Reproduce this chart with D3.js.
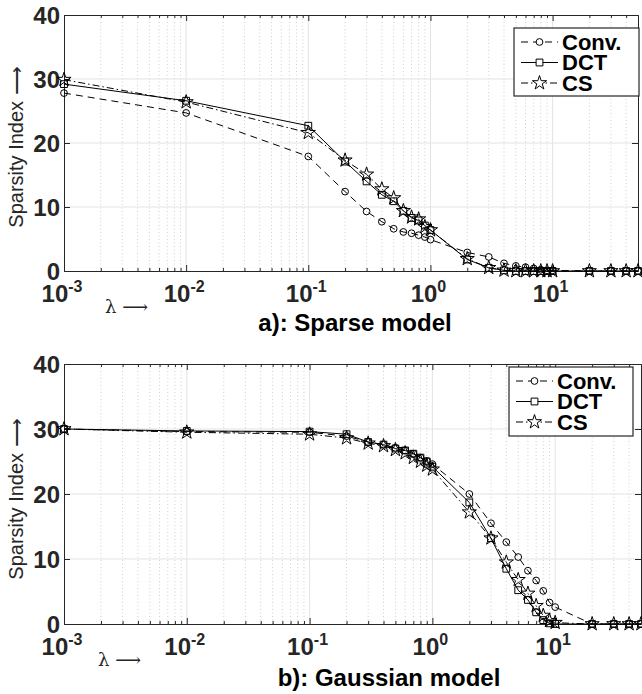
<!DOCTYPE html>
<html>
<head>
<meta charset="utf-8">
<script src="https://cdn.jsdelivr.net/npm/d3@7"></script>
<style>
html,body{margin:0;padding:0;background:#fff;}
svg{display:block;}
</style>
</head>
<body>
<svg id="chart" width="642" height="694"></svg>
<script>
// ---------------- data ----------------
const lambdaValues = [0.001, 0.01, 0.1, 0.2, 0.3, 0.4, 0.5, 0.6, 0.7, 0.8, 0.9, 1, 2, 3, 4, 5, 6, 7, 8, 9, 10, 20, 30, 40, 50];

const sparseConv = [27.8, 24.7, 17.9, 12.4, 9.3, 7.7, 6.6, 6.1, 5.9, 5.6, 5.3, 4.9, 2.9, 2.2, 1.2, 0.8, 0.6, 0.4, 0.2, 0.1, 0.1, 0, 0, 0, 0];
const sparseDCT  = [29.2, 26.6, 22.7, 17.1, 14.0, 11.9, 10.9, 9.4, 8.3, 7.9, 7.1, 6.4, 1.8, 0.5, 0.1, 0, 0, 0, 0, 0, 0, 0, 0, 0, 0];
const sparseCS   = [29.9, 26.4, 21.6, 17.3, 15.1, 12.8, 11.4, 9.4, 8.4, 8.1, 6.9, 6.4, 1.9, 0.5, 0.1, 0, 0, 0, 0, 0, 0, 0, 0, 0, 0];

const gaussConv = [30.0, 29.6, 29.5, 28.9, 28.0, 27.6, 27.1, 26.7, 26.2, 25.6, 25.1, 24.6, 20.0, 15.5, 12.6, 10.3, 8.2, 6.7, 5.1, 3.3, 2.6, 0, 0, 0, 0];
const gaussDCT  = [30.0, 29.7, 29.6, 29.2, 28.0, 27.6, 27.0, 26.7, 26.2, 25.6, 25.0, 24.2, 18.7, 13.2, 8.5, 5.2, 3.7, 1.8, 0.6, 0.1, 0, 0, 0, 0, 0];
const gaussCS   = [30.0, 29.5, 29.2, 28.6, 27.8, 27.4, 26.8, 26.3, 25.6, 25.0, 24.4, 23.8, 17.2, 13.2, 9.5, 6.8, 4.7, 2.8, 1.3, 0.5, 0.2, 0, 0, 0, 0];

const seriesNames = ["Conv.", "DCT", "CS"];
const yTickValues = [0, 10, 20, 30, 40];
const xDecades = [0.001, 0.01, 0.1, 1, 10];
const xDecadeExponents = ["-3", "-2", "-1", "0", "1"];
const yLabel = "Sparsity Index \u27F6";
const xLabel = "\u03BB \u27F6";
const panelTitles = ["a): Sparse model", "b): Gaussian model"];

// ---------------- styles ----------------
const styles = {
  "Conv.": {dash: "7,5", symbol: d3.symbolCircle, size: 36},
  "DCT":   {dash: null, symbol: d3.symbolSquare, size: 46},
  "CS":    {dash: "7,3,1.5,3", symbol: d3.symbolStar, size: 62}
};

const svg = d3.select("#chart");
const FONT = "'Liberation Sans', Arial, Helvetica, sans-serif";
const AX = "#262626";

function minorTicks() {
  const out = [];
  xDecades.forEach(d => { for (let k = 2; k <= 9; k++) { const v = d * k; if (v <= 50) out.push(v); } });
  out.push(20, 30, 40);
  return Array.from(new Set(out.map(v => +v.toPrecision(6))));
}

function drawPanel(cfg) {
  const x = d3.scaleLog().domain([0.001, 50]).range([cfg.left, cfg.right]);
  const y = d3.scaleLinear().domain([0, 40]).range([cfg.bottom, cfg.top]);
  const g = svg.append("g");
  const minors = minorTicks().filter(v => v > 0.001 && v < 50 && !xDecades.includes(v));

  // minor grid (dotted)
  g.selectAll(".mg").data(minors).join("line")
    .attr("x1", d => x(d)).attr("x2", d => x(d))
    .attr("y1", cfg.top).attr("y2", cfg.bottom)
    .attr("stroke", "#cfcfcf").attr("stroke-width", 1).attr("stroke-dasharray", "1,2.5");
  // major grid
  g.selectAll(".gx").data(xDecades.slice(1)).join("line")
    .attr("x1", d => x(d)).attr("x2", d => x(d))
    .attr("y1", cfg.top).attr("y2", cfg.bottom)
    .attr("stroke", "#e3e3e3").attr("stroke-width", 1);
  g.selectAll(".gy").data(yTickValues.slice(1, -1)).join("line")
    .attr("x1", cfg.left).attr("x2", cfg.right)
    .attr("y1", d => y(d)).attr("y2", d => y(d))
    .attr("stroke", "#e3e3e3").attr("stroke-width", 1);

  // axes with inward ticks
  const xb = d3.axisBottom(x).tickValues(xDecades).tickSizeInner(-6).tickSizeOuter(0).tickFormat("");
  const xbm = d3.axisBottom(x).tickValues(minors).tickSizeInner(-3).tickSizeOuter(0).tickFormat("");
  const xt = d3.axisTop(x).tickValues(xDecades).tickSizeInner(-6).tickSizeOuter(0).tickFormat("");
  const xtm = d3.axisTop(x).tickValues(minors).tickSizeInner(-3).tickSizeOuter(0).tickFormat("");
  const yl = d3.axisLeft(y).tickValues(yTickValues).tickSizeInner(-6).tickSizeOuter(0).tickFormat("");
  const yr = d3.axisRight(y).tickValues(yTickValues).tickSizeInner(-6).tickSizeOuter(0).tickFormat("");
  [[xb, `translate(0,${cfg.bottom})`], [xbm, `translate(0,${cfg.bottom})`],
   [xt, `translate(0,${cfg.top})`], [xtm, `translate(0,${cfg.top})`],
   [yl, `translate(${cfg.left},0)`], [yr, `translate(${cfg.right},0)`]].forEach(([a, t]) => {
    const ag = g.append("g").attr("transform", t).call(a);
    ag.selectAll("path,line").attr("stroke", AX).attr("stroke-width", 1);
  });

  // y tick labels
  g.selectAll(".yl").data(yTickValues).join("text")
    .attr("x", cfg.left - 4).attr("y", d => y(d)).attr("dy", "0.36em")
    .attr("text-anchor", "end").attr("font-family", FONT).attr("font-weight", "bold")
    .attr("font-size", 24).attr("fill", AX).text(d => d);

  // x tick labels 10^n
  const xl = g.selectAll(".xl").data(xDecades).join("text")
    .attr("x", (d, i) => x(d) - 2).attr("y", cfg.bottom + 31)
    .attr("text-anchor", "middle").attr("font-family", FONT).attr("font-weight", "bold")
    .attr("font-size", 24).attr("fill", AX);
  xl.append("tspan").text("10");
  xl.append("tspan").attr("font-size", 16).attr("dy", -10).text((d, i) => xDecadeExponents[i]);

  // y axis label
  g.append("text")
    .attr("transform", `translate(${cfg.ylabX},${cfg.ylabY}) rotate(-90)`)
    .attr("text-anchor", "middle").attr("font-family", FONT).attr("font-size", 20)
    .attr("fill", AX).text(yLabel);

  // lambda label
  g.append("text").attr("x", cfg.lamX).attr("y", cfg.bottom + 42)
    .attr("font-family", "'DejaVu Serif', 'Liberation Serif', serif").attr("font-size", 18)
    .attr("fill", AX).text(xLabel);

  // title
  g.append("text").attr("x", cfg.titleX).attr("y", cfg.titleY)
    .attr("text-anchor", "middle").attr("font-family", FONT).attr("font-weight", "bold")
    .attr("font-size", 24).attr("fill", "#000").text(cfg.title);

  // series
  const line = d3.line().x(d => x(d[0])).y(d => y(d[1]));
  cfg.series.forEach((vals, si) => {
    const name = seriesNames[si];
    const st = styles[name];
    const pts = lambdaValues.map((l, i) => [l, vals[i]]);
    g.append("path").datum(pts).attr("d", line).attr("fill", "none")
      .attr("stroke", "#000").attr("stroke-width", 1)
      .attr("stroke-dasharray", st.dash);
    g.selectAll(".m" + si).data(pts).join("path")
      .attr("transform", d => `translate(${x(d[0])},${y(d[1])})`)
      .attr("d", d3.symbol().type(st.symbol).size(st.size))
      .attr("fill", "none").attr("stroke", "#000").attr("stroke-width", 1);
  });

  // legend
  const L = cfg.legend;
  g.append("rect").attr("x", L.x).attr("y", L.y).attr("width", L.w).attr("height", L.h)
    .attr("fill", "#fff").attr("stroke", AX).attr("stroke-width", 1.2);
  seriesNames.forEach((name, i) => {
    const st = styles[name];
    const yy = L.y + 14 + i * 20.5;
    g.append("line").attr("x1", L.x + 7).attr("x2", L.x + 44).attr("y1", yy).attr("y2", yy)
      .attr("stroke", "#000").attr("stroke-width", 1).attr("stroke-dasharray", st.dash);
    g.append("path").attr("transform", `translate(${L.x + 25.5},${yy})`)
      .attr("d", d3.symbol().type(st.symbol).size(st.size))
      .attr("fill", "#fff").attr("stroke", "#000").attr("stroke-width", 1);
    g.append("text").attr("x", L.x + 48).attr("y", yy).attr("dy", "0.36em")
      .attr("font-family", FONT).attr("font-weight", "bold").attr("font-size", 22)
      .attr("fill", "#000").text(name);
  });
}

drawPanel({
  left: 64, right: 638, top: 15, bottom: 271,
  series: [sparseConv, sparseDCT, sparseCS],
  ylabX: 23, ylabY: 147, lamX: 105, titleX: 355, titleY: 331,
  title: panelTitles[0],
  legend: {x: 514, y: 28, w: 125, h: 68}
});
drawPanel({
  left: 64, right: 641, top: 364, bottom: 624,
  series: [gaussConv, gaussDCT, gaussCS],
  ylabX: 23, ylabY: 499, lamX: 98, titleX: 389, titleY: 686,
  title: panelTitles[1],
  legend: {x: 509, y: 367, w: 124, h: 69}
});
</script>
</body>
</html>
